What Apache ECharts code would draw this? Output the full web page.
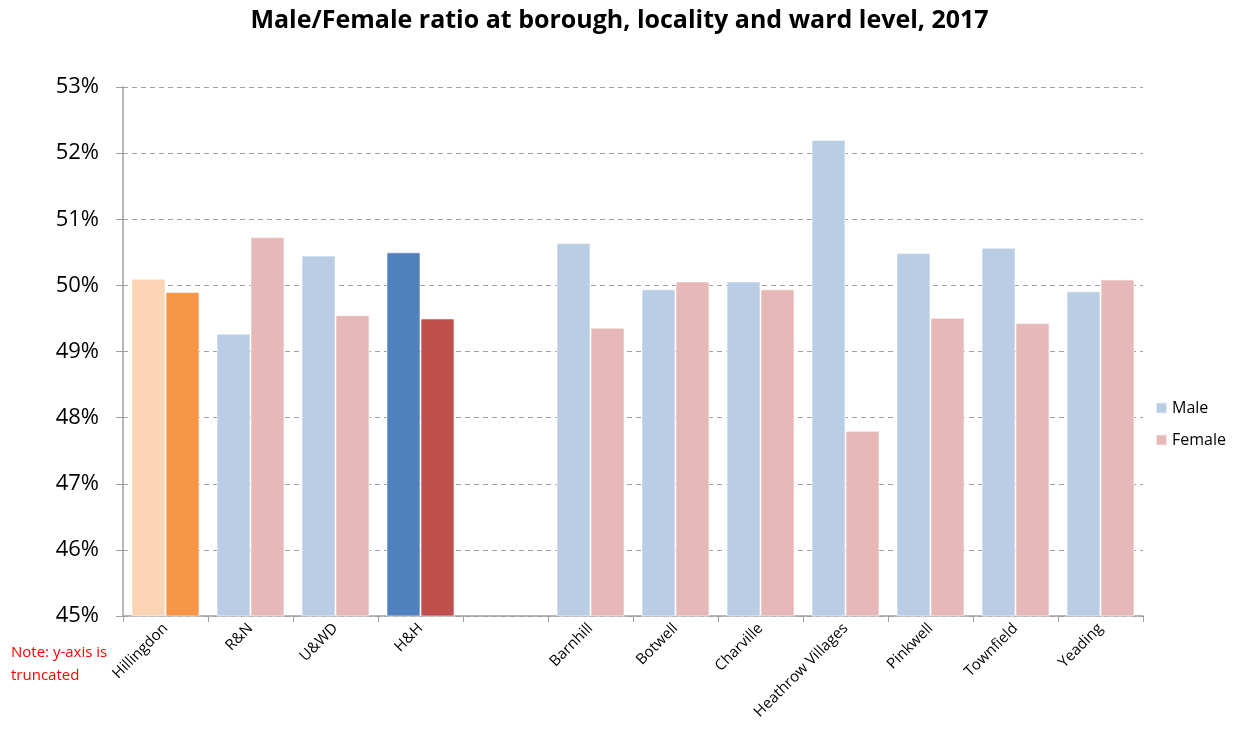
<!DOCTYPE html>
<html>
<head>
<meta charset="utf-8">
<script src="https://cdn.jsdelivr.net/npm/echarts@6/dist/echarts.min.js"></script>
<style>html,body{margin:0;padding:0;background:#fff}#c{width:1239px;height:742px}</style>
</head>
<body>
<div id="c"></div>
<script>
const categories = ['Hillingdon','R&N','U&WD','H&H','','Barnhill','Botwell','Charville','Heathrow Villages','Pinkwell','Townfield','Yeading'];
const maleValues = [50.1, 49.27, 50.45, 50.5, null, 50.64, 49.94, 50.06, 52.2, 50.49, 50.57, 49.91];
const femaleValues = [49.9, 50.73, 49.55, 49.5, null, 49.36, 50.06, 49.94, 47.8, 49.51, 49.43, 50.09];
const yTicks = [45, 46, 47, 48, 49, 50, 51, 52, 53];

const MALE = '#B9CDE5', FEMALE = '#E6B9B8';
const special = {
  'Hillingdon': ['#FBD4B4', '#F79646'],
  'H&H': ['#4F81BD', '#C0504D']
};
function mk(vals, idx, base) {
  return vals.map((v, i) => {
    const s = special[categories[i]];
    return { value: v, itemStyle: { color: s ? s[idx] : base } };
  });
}
const chart = echarts.init(document.getElementById('c'));
chart.setOption({
  animation: false,
  title: {
    text: 'Male/Female ratio at borough, locality and ward level, 2017',
    left: 'center', top: 3,
    textStyle: { fontFamily: 'Open Sans', fontWeight: 'bold', fontSize: 25, color: '#000' }
  },
  legend: {
    orient: 'vertical', left: 1150, top: 395, itemGap: 16,
    itemWidth: 11, itemHeight: 11, icon: 'rect',
    textStyle: { fontFamily: 'Open Sans', fontSize: 16, color: '#000' },
    data: [{ name: 'Male', itemStyle: { color: MALE } }, { name: 'Female', itemStyle: { color: FEMALE } }]
  },
  grid: { left: 123, right: 96, top: 87, bottom: 126, containLabel: false },
  xAxis: {
    type: 'category', data: categories,
    axisLine: { lineStyle: { color: '#A0A0A0', width: 1.5 } },
    axisTick: { show: true, length: 6, lineStyle: { color: '#A0A0A0' } },
    axisLabel: { rotate: 45, interval: 0, margin: 10, fontFamily: 'Open Sans', fontSize: 15, color: '#000' }
  },
  yAxis: {
    type: 'value', min: 45, max: 53, interval: 1,
    axisLine: { show: true, lineStyle: { color: '#A0A0A0', width: 1.5 } },
    axisTick: { show: true, length: 7, lineStyle: { color: '#A0A0A0' } },
    splitLine: { show: true, lineStyle: { color: '#A0A0A0', type: [5, 4], width: 1 } },
    axisLabel: { formatter: v => yTicks.includes(v) ? v + '%' : '', fontFamily: 'Open Sans', fontSize: 22, color: '#000', margin: 24 }
  },
  series: [
    { name: 'Male', type: 'bar', data: mk(maleValues, 0, MALE), barGap: '0%', barCategoryGap: '20%',
      itemStyle: { borderColor: 'rgba(255,255,255,0.6)', borderWidth: 1 } },
    { name: 'Female', type: 'bar', data: mk(femaleValues, 1, FEMALE), barGap: '0%', barCategoryGap: '20%',
      itemStyle: { borderColor: 'rgba(255,255,255,0.6)', borderWidth: 1 } }
  ],
  graphic: [
    { type: 'text', left: 11, top: 641, style: { text: 'Note: y-axis is\ntruncated', fill: '#FF0000', font: '15px "Open Sans"', lineHeight: 23 } }
  ]
});
</script>
</body>
</html>
